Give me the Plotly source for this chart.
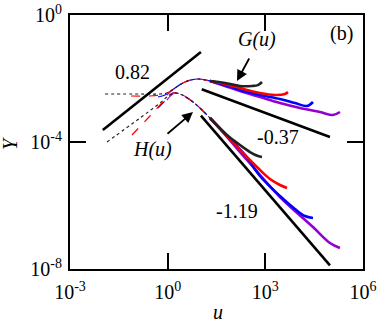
import numpy as np
import plotly.graph_objects as go

# ---------------- data ----------------
# G(u) family
g_black_u = [0.0119, 0.141, 0.581, 0.953, 1.68, 3.40, 7.94, 20.0, 57.5, 166, 389, 594, 789]
g_black_y = [3.25e-3, 3.25e-3, 3.25e-3, 3.49e-3, 5.02e-3, 7.76e-3, 9.64e-3, 8.34e-3, 7.22e-3, 5.81e-3, 5.81e-3, 6.2e-3, 7.76e-3]

g_red_u = [0.0746, 0.286, 0.581, 0.953, 1.68, 3.40, 7.94, 20.0, 57.5, 166, 684, 1980, 4010, 4955]
g_red_y = [2.81e-3, 2.81e-3, 3.02e-3, 3.49e-3, 5.02e-3, 7.76e-3, 9.64e-3, 8.34e-3, 6.71e-3, 5.02e-3, 3.49e-3, 3.02e-3, 3.25e-3, 3.76e-3]

g_blue_u = [0.505, 0.953, 1.68, 3.40, 7.94, 20.0, 57.5, 166, 684, 2818, 8128, 19010, 29040]
g_blue_y = [2.61e-3, 3.25e-3, 5.02e-3, 7.76e-3, 9.64e-3, 8.34e-3, 6.24e-3, 4.34e-3, 3.02e-3, 2.26e-3, 1.69e-3, 1.36e-3, 1.82e-3]

g_purple_u = [0.953, 1.68, 3.40, 7.94, 20.0, 57.5, 166, 684, 2818, 11590, 47640, 119400, 195900]
g_purple_y = [3.02e-3, 5.02e-3, 7.76e-3, 9.64e-3, 8.34e-3, 5.81e-3, 4.04e-3, 2.61e-3, 1.69e-3, 1.18e-3, 8.81e-4, 7.08e-4, 8.81e-4]

# H(u) family
h_black_u = [0.0137, 0.141, 0.581, 0.953, 1.46, 2.39, 6.0, 20.0, 66.4, 166, 337, 594, 789]
h_black_y = [1.0e-4, 5.70e-4, 1.69e-3, 2.61e-3, 3.49e-3, 3.25e-3, 1.82e-3, 5.70e-4, 1.66e-4, 8.05e-5, 4.84e-5, 3.62e-5, 3.37e-5]

h_red_u = [0.080, 0.286, 0.581, 0.953, 1.46, 2.39, 6.0, 20.0, 66.4, 237, 594, 1390, 2818, 4624]
h_red_y = [1.66e-4, 6.59e-4, 1.46e-3, 2.43e-3, 3.49e-3, 3.25e-3, 1.82e-3, 5.70e-4, 1.55e-4, 3.90e-5, 1.52e-5, 6.84e-6, 4.43e-6, 3.56e-6]

h_blue_u = [0.505, 0.953, 1.46, 2.39, 6.0, 20.0, 66.4, 237, 684, 2818, 8128, 16480, 29040]
h_blue_y = [1.18e-3, 2.26e-3, 3.49e-3, 3.25e-3, 1.82e-3, 5.70e-4, 1.55e-4, 3.90e-5, 8.5e-6, 1.99e-6, 7.76e-7, 4.67e-7, 4.04e-7]

h_purple_u = [0.953, 1.46, 2.39, 6.0, 20.0, 66.4, 273, 2818, 29040, 96600, 195900]
h_purple_y = [2.10e-3, 3.25e-3, 3.25e-3, 1.82e-3, 5.70e-4, 1.44e-4, 2.71e-5, 1.85e-6, 2.10e-7, 6.59e-8, 4.58e-8]

# guide lines (slopes 0.82, -0.37, -1.19)
line1_u = [0.0102, 10.5]
line1_y = [2.39e-4, 6.84e-2]
line2_u = [11.1, 96600]
line2_y = [4.57e-3, 1.44e-4]
line3_u = [10.5, 96600]
line3_y = [6.8e-4, 1.3e-8]

x_tickvals = [1e-3, 1, 1e3, 1e6]
x_ticktext = ["10<sup>-3</sup>", "10<sup>0</sup>", "10<sup>3</sup>", "10<sup>6</sup>"]
y_tickvals = [1e-8, 1e-4, 1]
y_ticktext = ["10<sup>-8</sup>", "10<sup>-4</sup>", "10<sup>0</sup>"]

# ---------------- figure ----------------
fig = go.Figure()
split_u = 20.0
curves = [
    (g_purple_u, g_purple_y, "#9400D3", "dash"),
    (g_blue_u, g_blue_y, "#0000FF", "dash"),
    (g_red_u, g_red_y, "#FF0000", "dash"),
    (g_black_u, g_black_y, "#222222", "dot"),
    (h_purple_u, h_purple_y, "#9400D3", "dash"),
    (h_blue_u, h_blue_y, "#0000FF", "dash"),
    (h_red_u, h_red_y, "#FF0000", "dash"),
    (h_black_u, h_black_y, "#222222", "dot"),
]
for u, y, c, d in curves:
    u = np.array(u); y = np.array(y)
    lo = u <= split_u
    hi = u >= split_u
    fig.add_trace(go.Scatter(x=u[lo], y=y[lo], mode="lines",
                             line=dict(color=c, width=1.2, dash=d, shape="spline"),
                             showlegend=False, hoverinfo="skip"))
    fig.add_trace(go.Scatter(x=u[hi], y=y[hi], mode="lines",
                             line=dict(color=c, width=2.6, shape="spline"),
                             showlegend=False, hoverinfo="skip"))

for lu, ly in [(line1_u, line1_y), (line2_u, line2_y), (line3_u, line3_y)]:
    fig.add_trace(go.Scatter(x=lu, y=ly, mode="lines",
                             line=dict(color="black", width=2.6),
                             showlegend=False, hoverinfo="skip"))

font = "Liberation Serif"
axis_common = dict(type="log", showgrid=False, zeroline=False, automargin=False,
                   showline=True, linecolor="black", linewidth=2,
                   mirror="allticks", ticks="inside", ticklen=16, tickwidth=1.5,
                   tickcolor="black", tickfont=dict(family=font, size=20, color="black"))
fig.update_xaxes(range=[-3, 6], tickvals=x_tickvals, ticktext=x_ticktext,
                 ticklabelstandoff=4, **axis_common)
fig.update_yaxes(range=[-8, 0], tickvals=y_tickvals, ticktext=y_ticktext,
                 ticklabelstandoff=2, **axis_common)

def ann(text, x, y, italic=False, angle=0):
    fig.add_annotation(text=("<i>%s</i>" % text) if italic else text,
                       x=x, y=y, xref="paper", yref="paper", showarrow=False,
                       xanchor="center", yanchor="middle", textangle=angle,
                       font=dict(family=font, size=20, color="black"))

ann("0.82", 0.215, 0.776)
ann("G(u)", 0.638, 0.902, italic=True)
ann("(b)", 0.925, 0.929)
ann("-0.37", 0.710, 0.520)
ann("H(u)", 0.280, 0.469, italic=True)
ann("-1.19", 0.570, 0.228)
ann("Y", -0.205, 0.496, italic=True, angle=-90)
ann("u", 0.505, -0.168, italic=True)

# arrows (positions in log10 units on log axes)
fig.add_annotation(x=2.129, y=-2.079, xref="x", yref="y", text="", showarrow=True,
                   ax=13, ay=-24, arrowhead=2, arrowsize=1.2, arrowwidth=1.8, arrowcolor="black")
fig.add_annotation(x=0.778, y=-3.055, xref="x", yref="y", text="", showarrow=True,
                   ax=-27, ay=23, arrowhead=2, arrowsize=1.2, arrowwidth=1.8, arrowcolor="black")

fig.update_layout(width=381, height=325, margin=dict(l=70, r=18, t=15, b=56),
                  font=dict(family=font, color="black"),
                  paper_bgcolor="white", plot_bgcolor="white", showlegend=False)

fig.write_html("out.html", config={"displayModeBar": False},
               post_script="document.body.style.margin='0';document.body.style.overflow='hidden';")
